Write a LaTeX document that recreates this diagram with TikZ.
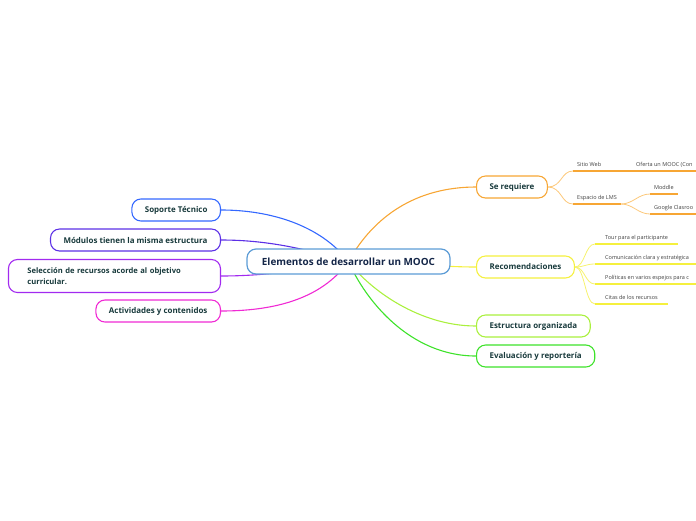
\documentclass[tikz,border=0pt]{standalone}
\usepackage{fontspec}
\setmainfont{Open Sans}
\usepackage{xcolor}
\usepackage{tikz}
\usetikzlibrary{backgrounds}

\definecolor{ink}{RGB}{24,58,60}
\definecolor{rootink}{RGB}{20,38,72}
\definecolor{rootline}{RGB}{92,156,214}
\definecolor{cblue}{RGB}{52,104,255}
\definecolor{cindigo}{RGB}{92,48,230}
\definecolor{cviolet}{RGB}{162,42,240}
\definecolor{cmagenta}{RGB}{240,42,212}
\definecolor{corange}{RGB}{247,166,52}
\definecolor{corangel}{RGB}{252,200,122}
\definecolor{cyellow}{RGB}{245,240,62}
\definecolor{cyellowl}{RGB}{246,242,110}
\definecolor{clime}{RGB}{170,240,62}
\definecolor{cgreen}{RGB}{62,226,42}

\begin{document}
\begin{tikzpicture}[
  x=1pt, y=-1pt,
  root/.style={draw=rootline, line width=1.2pt, rounded corners=9pt, fill=white,
               minimum width=203pt, minimum height=25pt, text=rootink,
               font=\fontsize{9.9}{11}\selectfont\bfseries},
  topic/.style={draw, line width=1.1pt, rounded corners=9pt, fill=white,
                minimum height=22pt, inner xsep=13pt, text=ink,
                font=\fontsize{7.95}{11.5}\selectfont\bfseries},
  leaf/.style={anchor=south west, inner xsep=4pt, inner ysep=3pt, text height=4pt,
               text depth=1.2pt, text=black!75, font=\fontsize{5.5}{6}\selectfont},
  rleaf/.style={leaf, inner xsep=10pt},
  link/.style={line width=1.1pt},
  twig/.style={line width=0.8pt},
  uline/.style={line width=1.4pt},
]
\clip (0,0) rectangle (696,520);

% Central topic
\node[root] (root) at (348.5,261.5) {Elementos de desarrollar un MOOC};

% Topics on the left
\node[topic, draw=cblue,    anchor=east] (soporte)   at (221,210) {Soporte Técnico};
\node[topic, draw=cindigo,  anchor=east] (modulos)   at (221,240) {Módulos tienen la misma estructura};
\node[topic, draw=cviolet,  anchor=east, text width=174pt, align=left, inner xsep=19pt,
      minimum height=33pt, font=\fontsize{7.6}{11.5}\selectfont\bfseries] (seleccion) at (221,276)
      {Selección de recursos acorde al objetivo\\curricular.};
\node[topic, draw=cmagenta, anchor=east] (actividades) at (221,311) {Actividades y contenidos};

% Topics on the right
\node[topic, draw=corange, anchor=west] (requiere)   at (476,187) {Se requiere};
\node[topic, draw=cyellow, anchor=west] (recom)      at (476,267) {Recomendaciones};
\node[topic, draw=clime,   anchor=west] (estructura) at (476,326) {Estructura organizada};
\node[topic, draw=cgreen,  anchor=west] (evaluacion) at (476,356) {Evaluación y reportería};

% Leaves of "Se requiere"
\node[leaf] (sitio)   at (573,171) {Sitio Web};
\node[leaf] (oferta)  at (632,171) {Oferta un MOOC (Con};
\node[leaf] (lms)     at (573,204) {Espacio de LMS};
\node[leaf] (moddle)  at (650,194) {Moddle};
\node[leaf] (google)  at (650,214) {Google Clasroo};

% Leaves of "Recomendaciones"
\node[rleaf] (tour)      at (595,244) {Tour para el participante};
\node[rleaf] (comunica)  at (595,264) {Comunicación clara y estratégica};
\node[rleaf] (politicas) at (595,284) {Políticas en varios espejos para c};
\node[rleaf] (citas)     at (595,304) {Citas de los recursos};

\begin{scope}[on background layer]
% Branches from the central topic
\draw[link, cblue]    (soporte.east)     .. controls +(50,0) and +(-28,-36) .. (root.center);
\draw[link, cindigo]  (modulos.east)     .. controls +(50,0) and +(-38,-11) .. (root.center);
\draw[link, cviolet]  (seleccion.east)   .. controls +(50,0) and +(-38,7)   .. (root.center);
\draw[link, cmagenta] (actividades.east) .. controls +(50,0) and +(-28,39)  .. (root.center);
\draw[link, corange]  (root.center) .. controls +(25,-45) and +(-60,0) .. (requiere.west);
\draw[link, cyellow]  (root.center) .. controls +(50,1)   and +(-36,0) .. (recom.west);
\draw[link, clime]    (root.center) .. controls +(22,29)  and +(-56,0) .. (estructura.west);
\draw[link, cgreen]   (root.center) .. controls +(17,39)  and +(-66,0) .. (evaluacion.west);
\end{scope}

% Sub branches
\draw[twig, corangel] (requiere.east) .. controls +(14,0) and +(-12,0) .. (sitio.south west);
\draw[twig, corangel] (requiere.east) .. controls +(14,0) and +(-12,0) .. (lms.south west);
\draw[twig, corangel] (lms.south east) .. controls +(12,0) and +(-12,0) .. (moddle.south west);
\draw[twig, corangel] (lms.south east) .. controls +(12,0) and +(-12,0) .. (google.south west);
\draw[uline, corange] (sitio.south west) -- (oferta.south west) -- (oferta.south east);
\foreach \n in {lms, moddle, google}
  \draw[uline, corange] (\n.south west) -- (\n.south east);

\foreach \n in {tour, comunica, politicas, citas} {
  \draw[twig, cyellowl] (recom.east) .. controls +(10,0) and +(-10,0) .. (\n.south west);
  \draw[uline, cyellow] (\n.south west) -- (\n.south east);
}
\end{tikzpicture}
\end{document}
